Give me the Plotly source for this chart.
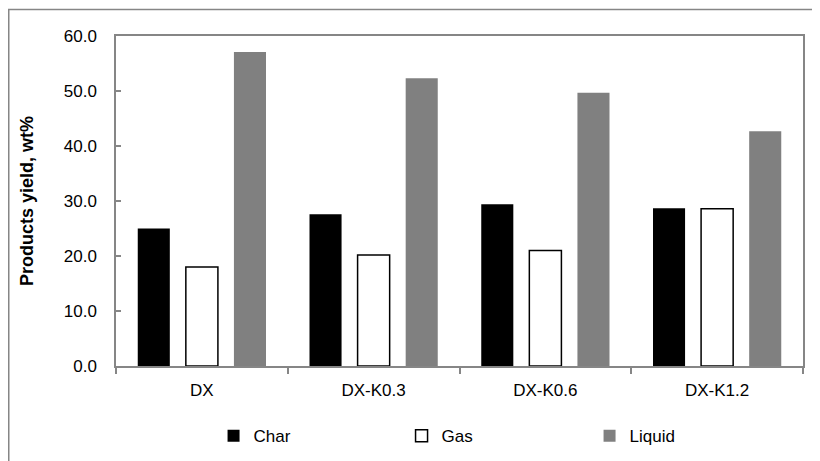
import plotly.graph_objects as go

categories = ["DX", "DX-K0.3", "DX-K0.6", "DX-K1.2"]
char_vals = [25.0, 27.6, 29.4, 28.7]
gas_vals = [18.0, 20.2, 21.0, 28.6]
liquid_vals = [57.1, 52.3, 49.7, 42.7]
y_ticks = [0, 10, 20, 30, 40, 50, 60]
y_tick_labels = ["0.0", "10.0", "20.0", "30.0", "40.0", "50.0", "60.0"]

FONT = "Liberation Sans, Arial, sans-serif"
AX = "#868686"

fig = go.Figure()
fig.add_trace(go.Bar(name="Char", x=categories, y=char_vals,
                     marker=dict(color="#000000", line=dict(width=0))))
fig.add_trace(go.Bar(name="Gas", x=categories, y=gas_vals,
                     marker=dict(color="#ffffff", line=dict(color="#000000", width=1.5))))
fig.add_trace(go.Bar(name="Liquid", x=categories, y=liquid_vals,
                     marker=dict(color="#808080", line=dict(width=0))))

fig.update_layout(
    width=820, height=461,
    margin=dict(l=108, r=25, t=27.5, b=102.5, autoexpand=False),
    paper_bgcolor="white", plot_bgcolor="white",
    barmode="group", bargap=0.16, bargroupgap=0.333,
    font=dict(family=FONT, size=17, color="#000000"),
    showlegend=True,
    legend=dict(orientation="h", x=0.142, xanchor="left", y=-0.158, yanchor="top",
                font=dict(family=FONT, size=17), itemwidth=30, entrywidth=143,
                traceorder="normal"),
    shapes=[dict(type="rect", xref="paper", yref="paper",
                 x0=-0.1561, x1=1.2, y0=-0.5, y1=1.080,
                 line=dict(color=AX, width=1.5), fillcolor="rgba(0,0,0,0)", layer="below")],
)
fig.update_xaxes(type="category", showline=True, linecolor=AX, linewidth=1.5, mirror=True,
                 ticks="outside", ticklen=6, tickcolor=AX, tickwidth=1.5,
                 tickson="boundaries", showgrid=False, ticklabelstandoff=8,
                 tickfont=dict(family=FONT, size=17))
fig.update_yaxes(range=[0, 60], tickvals=y_ticks, ticktext=y_tick_labels,
                 showline=True, linecolor=AX, linewidth=1.5, mirror=True,
                 ticks="inside", ticklen=5, tickcolor=AX, tickwidth=1.5,
                 showgrid=False, zeroline=False, ticklabelstandoff=14,
                 tickfont=dict(family=FONT, size=17),
                 title=dict(text="<b>Products yield, wt%</b>", font=dict(family=FONT, size=18), standoff=25))

fig.write_html("out.html")
